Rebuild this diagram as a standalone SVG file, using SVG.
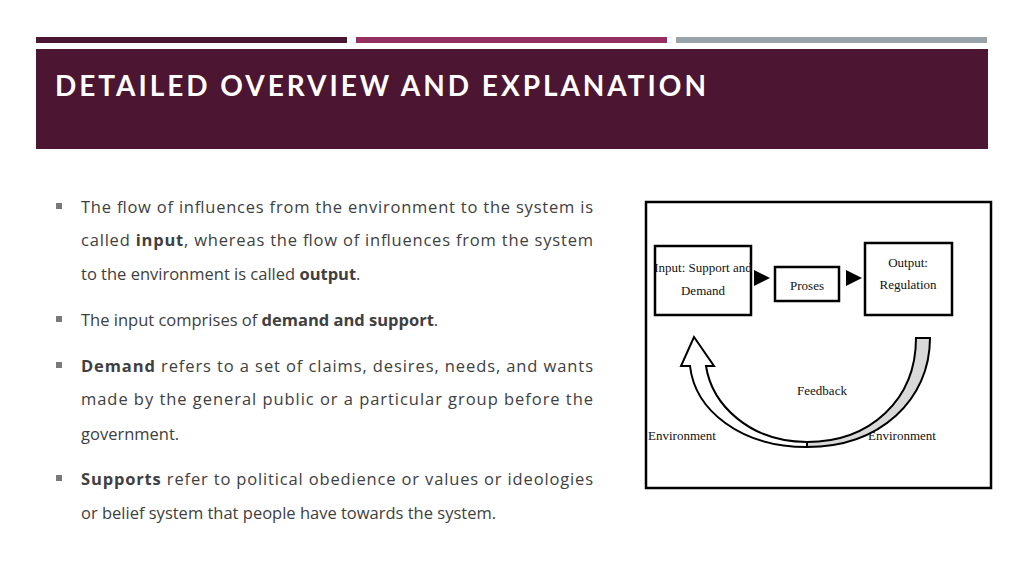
<svg xmlns="http://www.w3.org/2000/svg" width="1024" height="574" viewBox="0 0 1024 574">
<style>
.b{font-family:"Open Sans",sans-serif;font-size:16.5px;fill:#404040}
.d{font-family:"Liberation Serif",serif;font-size:13px;fill:#111;text-anchor:middle}
.box{fill:#fff;stroke:#000;stroke-width:2.5}
</style>
<defs><marker id="ah" markerWidth="8" markerHeight="8" refX="7" refY="4" orient="auto"><path d="M0,0 L8,4 L0,8 Z" fill="#000"/></marker></defs>
<rect width="1024" height="574" fill="#fff"/>
<rect x="36" y="37" width="311" height="6" fill="#4a1530"/>
<rect x="356" y="37" width="311" height="6" fill="#93305f"/>
<rect x="676" y="37" width="311" height="6" fill="#9aa2a9"/>
<rect x="36" y="49" width="952" height="100" fill="#4c1532"/>
<text x="55" y="96" font-family="Lato,sans-serif" font-weight="bold" font-size="28" fill="#fff" textLength="651">DETAILED OVERVIEW AND EXPLANATION</text>
<g fill="#7a7a7a"><rect x="56" y="203" width="6" height="6"/><rect x="56" y="316" width="6" height="6"/><rect x="56" y="362" width="6" height="6"/><rect x="56" y="475" width="6" height="6"/></g>
<text class="b" x="81" y="213" textLength="512">The flow of influences from the environment to the system is</text>
<text class="b" x="81" y="246" textLength="512">called <tspan font-weight="bold">input</tspan>, whereas the flow of influences from the system</text>
<text class="b" x="81" y="280">to the environment is called <tspan font-weight="bold">output</tspan>.</text>
<text class="b" x="81" y="326">The input comprises of <tspan font-weight="bold">demand and support</tspan>.</text>
<text class="b" x="81" y="372" textLength="512"><tspan font-weight="bold">Demand</tspan> refers to a set of claims, desires, needs, and wants</text>
<text class="b" x="81" y="405" textLength="512">made by the general public or a particular group before the</text>
<text class="b" x="81" y="440">government.</text>
<text class="b" x="81" y="485" textLength="512"><tspan font-weight="bold">Supports</tspan> refer to political obedience or values or ideologies</text>
<text class="b" x="81" y="519">or belief system that people have towards the system.</text>
<rect x="646" y="202" width="345" height="286" fill="#fff" stroke="#000" stroke-width="2.5"/>
<g id="input"><rect class="box" x="655" y="246" width="96" height="69"/><text class="d" x="703" y="272">Input: Support and</text><text class="d" x="703" y="295">Demand</text></g>
<g id="proses"><rect class="box" x="775" y="267" width="64" height="34"/><text class="d" x="807" y="290">Proses</text></g>
<g id="output"><rect class="box" x="865" y="243" width="87" height="72"/><text class="d" x="908" y="267">Output:</text><text class="d" x="908" y="289">Regulation</text></g>
<g id="labels"><text class="d" x="822" y="395">Feedback</text><text class="d" x="682" y="440">Environment</text><text class="d" x="902" y="440">Environment</text></g>
<g id="connectors" stroke="#000" fill="none">
<line x1="755" y1="278" x2="768" y2="278" stroke-width="2" marker-end="url(#ah)"/>
<line x1="846" y1="278" x2="860" y2="278" stroke-width="2" marker-end="url(#ah)"/>
<path d="M916 338 L930 338 C930 400 880 447 807 447 L807 442 C870 442 916 400 916 338 Z" fill="#d9d9d9" stroke-width="2"/>
<path d="M807 447 C740 447 695 410 690 366 L681 366 L694 337 L714 366 L706 366 C712 405 750 442 807 442 Z" fill="#fff" stroke-width="2"/>
</g>
</svg>
